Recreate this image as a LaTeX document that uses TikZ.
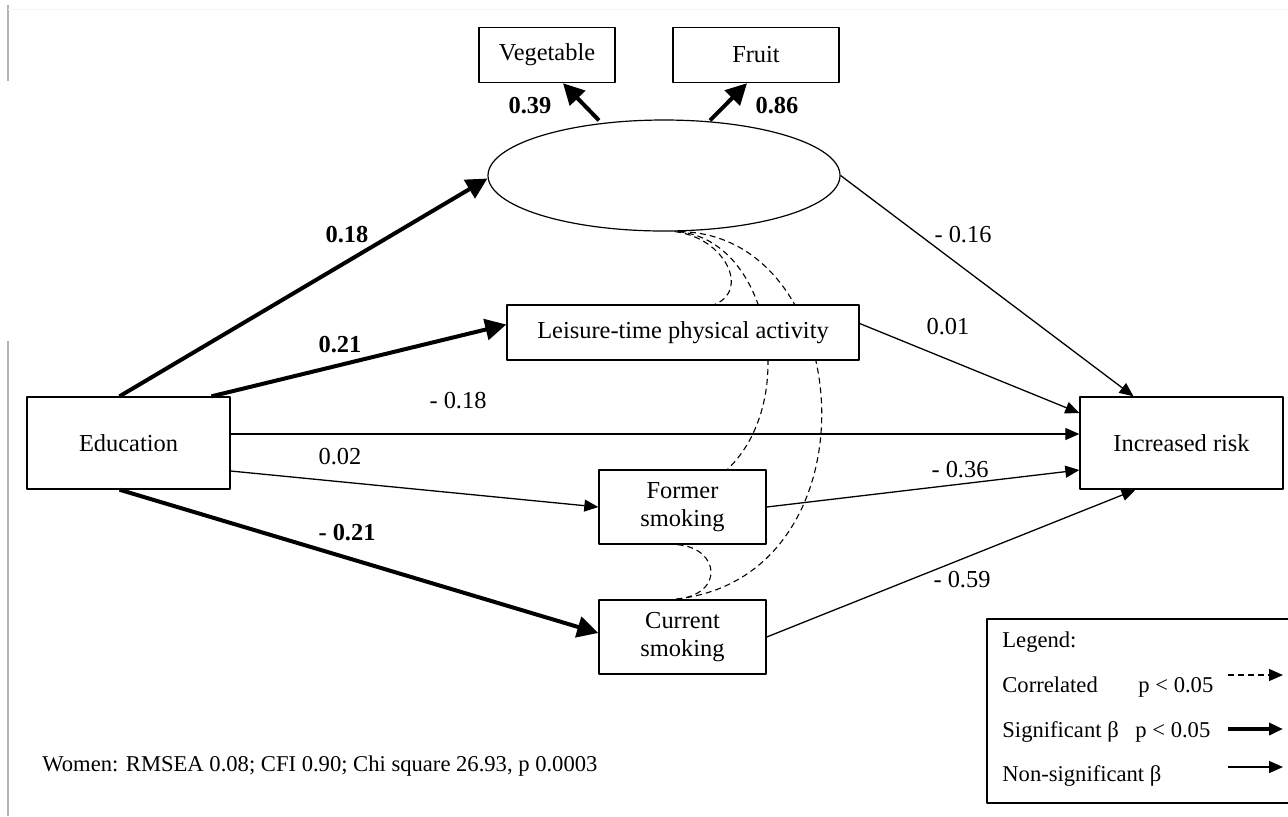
\documentclass[tikz,border=0pt]{standalone}
\usepackage{fontspec}
\setmainfont{Liberation Serif}
\usetikzlibrary{arrows.meta,calc,shapes.geometric}
\pgfdeclarelayer{bg}
\pgfsetlayers{bg,main}
\begin{document}
\begin{tikzpicture}[x=0.5pt, y=-0.5pt, font=\fontsize{12.2}{14}\selectfont, line join=round, >={Triangle[length=7pt,width=6pt]}]
	\tikzset{box/.style={draw, line width=0.7pt, fill=white, inner sep=0pt, align=center},
		sig/.style={line width=2pt, -{Triangle[length=10.5pt,width=10.5pt]}},
		nsig/.style={line width=0.65pt, ->},
		corr/.style={line width=0.55pt, dash pattern=on 3pt off 2pt},
		note/.style={anchor=base west, inner sep=0pt, font=\fontsize{11.3}{13}\selectfont}}
	\useasboundingbox (0,0) rectangle (1288,816);
	% page edge
	\draw[gray!60, line width=0.6pt] (8,5)--(8,81) (8,341)--(8,816);
	\draw[gray!8, line width=0.5pt] (8,9)--(1288,9);
	% variables
	\node[ellipse, draw, line width=0.6pt, minimum width=176pt, minimum height=55.5pt, inner sep=0pt] (lat) at (664,175.5) {};
	\node[box, minimum width=68pt, minimum height=27.5pt] (veg) at (547,55) {Vegetable};
	\node[box, minimum width=83pt, minimum height=27.5pt] (fruit) at (756,55) {Fruit};
	\node[box, minimum width=176pt, minimum height=27.5pt] (leis) at (683,332.5) {Leisure-time physical activity};
	\node[box, minimum width=83.5pt, minimum height=37pt] (former) at (682.5,507) {Former\\smoking};
	\node[box, minimum width=83.5pt, minimum height=37pt] (cur) at (682.5,637) {Current\\smoking};
	\node[box, minimum width=101.5pt, minimum height=46pt] (edu) at (128.5,443) {Education};
	\node[box, minimum width=101.5pt, minimum height=46pt] (risk) at (1181.5,443) {Increased risk};
	% correlations
	\begin{pgfonlayer}{bg}
		\draw[corr] ($(lat.south)+(11,0)$) .. controls (725,238) and (750,290) .. ($(leis.north)+(32,0)$);
		\draw[corr] ($(lat.south)+(14,0)$) .. controls (770,240) and (800,400) .. ($(former.north)+(45,0)$);
		\draw[corr] ($(lat.south)+(16,0)$) .. controls (860,235) and (880,580) .. ($(cur.north)+(-9,0)$);
		\draw[corr] ($(former.south)+(-5,0)$) .. controls (720,548) and (725,595) .. ($(cur.north)+(-7,0)$);
	\end{pgfonlayer}
	% paths
	\draw[sig] ($(lat.north)+(-65,1)$) -- ($(veg.south)+(16,0)$);
	\draw[sig] ($(lat.north)+(46,1)$) -- ($(fruit.south)+(-9,0)$);
	\draw[sig] ($(edu.north)+(-9,0)$) -- ($(lat.west)+(0,3)$);
	\draw[sig] ($(edu.north)+(83,0)$) -- ($(leis.west)+(0,-8)$);
	\draw[nsig] ($(edu.east)+(0,-9)$) -- ($(risk.west)+(0,-9)$);
	\draw[nsig] ($(edu.east)+(0,28)$) -- (former.west);
	\draw[sig] ($(edu.south)+(-9,0)$) -- ($(cur.west)+(0,-4)$);
	\draw[nsig] (lat.east) -- ($(risk.north)+(-48,0)$);
	\draw[nsig] ($(leis.east)+(0,-9)$) -- ($(risk.west)+(0,-30)$);
	\draw[nsig] (former.east) -- ($(risk.west)+(0,27)$);
	\draw[nsig] (cur.east) -- ($(risk.south)+(-46,0)$);
	% coefficients
	\node (c39) at (530,106) {\textbf{0.39}};
	\node (c86) at (777,106) {\textbf{0.86}};
	\node (c18) at (347,235) {\textbf{0.18}};
	\node (c21) at (340,345) {\textbf{0.21}};
	\node (d18) at (458,401) {- 0.18};
	\node (c02) at (340,457) {0.02};
	\node (d21) at (347,533) {\textbf{- 0.21}};
	\node (d16) at (963,235) {- 0.16};
	\node (c01) at (948,327) {0.01};
	\node (d36) at (960,470) {- 0.36};
	\node (d59) at (962,580) {- 0.59};
	% legend
	\draw[line width=0.6pt] (1288,619) -| (987,803) -- (1288,803);
	\node[note] (lgd) at (1002,647) {Legend:};
	\node[note] (lcor) at (1002,692) {Correlated};
	\node[note] (lsig) at (1002,737) {Significant β};
	\node[note] (lns) at (1002,781) {Non-significant β};
	\node[note] (pcor) at (1138,692) {p < 0.05};
	\node[note] (psig) at (1135,737) {p < 0.05};
	\foreach \n/\y/\s in {cor/675/corr,sig/729/sig,ns/767/nsig}
	{\coordinate (a\n) at (1228,\y);
		\coordinate (b\n) at (1283,\y);
		\draw[\s,->] (a\n) -- (b\n);}
	% fit statistics
	\node[note] (fit) at (42,771) {Women: RMSEA 0.08; CFI 0.90; Chi square 26.93, p 0.0003};
\end{tikzpicture}
\end{document}
